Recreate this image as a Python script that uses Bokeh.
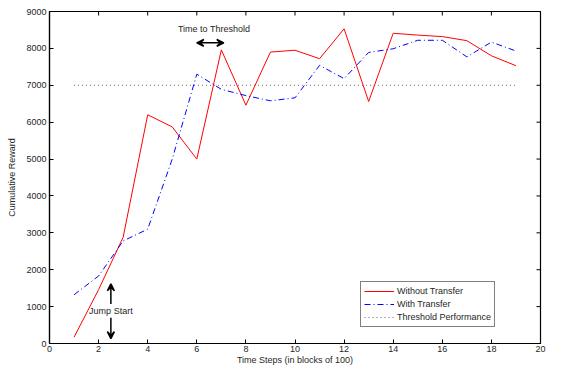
import math
from bokeh.plotting import figure
from bokeh.models import (FixedTicker, Range1d, Legend, LegendItem,
                          Arrow, VeeHead, Label, ColumnDataSource)
from bokeh.embed import file_html
from bokeh.resources import INLINE

# ---- data ----
steps = list(range(1, 20))
without_transfer = [170, 1460, 2880, 6200, 5870, 5000, 7960, 6460, 7900, 7950,
                    7720, 8530, 6560, 8410, 8360, 8320, 8210, 7800, 7530]
with_transfer = [1320, 1830, 2780, 3100, 5000, 7300, 6890, 6720, 6580, 6660,
                 7540, 7180, 7890, 7990, 8220, 8220, 7770, 8170, 7930]
threshold_x = [1, 19]
threshold_y = [7000, 7000]
x_ticks = list(range(0, 21, 2))
y_ticks = list(range(0, 9001, 1000))
x_min, x_max = 0, 20
y_min, y_max = 0, 9000

FONT = "Liberation Sans"
TXT = "#262626"

p = figure(width=546, height=367, output_backend="svg", toolbar_location=None,
           x_range=Range1d(x_min, x_max), y_range=Range1d(y_min, y_max),
           min_border_left=49, min_border_right=6, min_border_top=11,
           min_border_bottom=20)
p.grid.visible = False
p.outline_line_color = "black"
p.outline_line_width = 1.2
p.background_fill_color = "white"

for ax in (p.xaxis[0], p.yaxis[0]):
    ax.major_tick_in = 4
    ax.major_tick_out = 0
    ax.minor_tick_line_color = None
    ax.axis_line_color = "black"
    ax.axis_line_width = 1.2
    ax.major_tick_line_color = "black"
    ax.major_label_text_font = FONT
    ax.major_label_text_font_size = "9px"
    ax.major_label_text_color = TXT
    ax.major_label_standoff = 3
    ax.axis_label_text_font = FONT
    ax.axis_label_text_font_size = "9px"
    ax.axis_label_text_font_style = "normal"
    ax.axis_label_text_color = TXT

p.xaxis.ticker = FixedTicker(ticks=x_ticks)
p.yaxis.ticker = FixedTicker(ticks=y_ticks)
p.xaxis.axis_label = "Time Steps (in blocks of 100)"
p.yaxis.axis_label = "Cumulative Reward"
p.xaxis.major_label_standoff = 2
p.xaxis.axis_label_standoff = 0
p.yaxis.axis_label_standoff = 6

# inward ticks on the top and right edges of the box (clipped to the frame)
p.scatter(x=x_ticks, y=[y_max] * len(x_ticks), marker="dash", size=8,
          angle=math.pi / 2, line_color="black", line_width=1)
p.scatter(x=[x_max] * len(y_ticks), y=y_ticks, marker="dash", size=8,
          line_color="black", line_width=1)

src = ColumnDataSource(dict(x=steps, a=without_transfer, b=with_transfer))
r1 = p.line("x", "a", source=src, line_color="#ff0000", line_width=1)
r2 = p.line("x", "b", source=src, line_color="#0000ff", line_width=1,
            line_dash="6 3 1 3")
r3 = p.line(threshold_x, threshold_y, line_color="#555555", line_width=0.9,
            line_dash="1 3")

legend = Legend(items=[LegendItem(label="Without Transfer", renderers=[r1]),
                       LegendItem(label="With Transfer", renderers=[r2]),
                       LegendItem(label="Threshold Performance", renderers=[r3])],
                location=(311, 16), label_text_font=FONT,
                label_text_font_size="9px", label_text_color=TXT,
                label_height=12, glyph_height=12,
                glyph_width=30, label_standoff=3, padding=3, spacing=1,
                margin=0, border_line_color="black", border_line_width=1.2,
                background_fill_alpha=1)
p.add_layout(legend, "center")

# annotations
head = dict(size=7, line_color="black", fill_color="black", line_width=1.5)
p.add_layout(Arrow(x_start=6.0, y_start=8150, x_end=7.1, y_end=8150,
                   start=VeeHead(**head), end=VeeHead(**head),
                   line_color="black", line_width=1.5))
p.add_layout(Arrow(x_start=2.5, y_start=1070, x_end=2.5, y_end=1620,
                   end=VeeHead(**head), line_color="black", line_width=1.5))
p.add_layout(Arrow(x_start=2.5, y_start=700, x_end=2.5, y_end=130,
                   end=VeeHead(**head), line_color="black", line_width=1.5))
p.add_layout(Label(x=6.7, y=8530, text="Time to Threshold", text_align="center",
                   text_baseline="middle", text_font=FONT, text_font_size="9px",
                   text_color=TXT))
p.add_layout(Label(x=2.5, y=880, text="Jump Start", text_align="center",
                   text_baseline="middle", text_font=FONT, text_font_size="9px",
                   text_color=TXT))

open("out.html", "w").write(file_html(p, INLINE))
